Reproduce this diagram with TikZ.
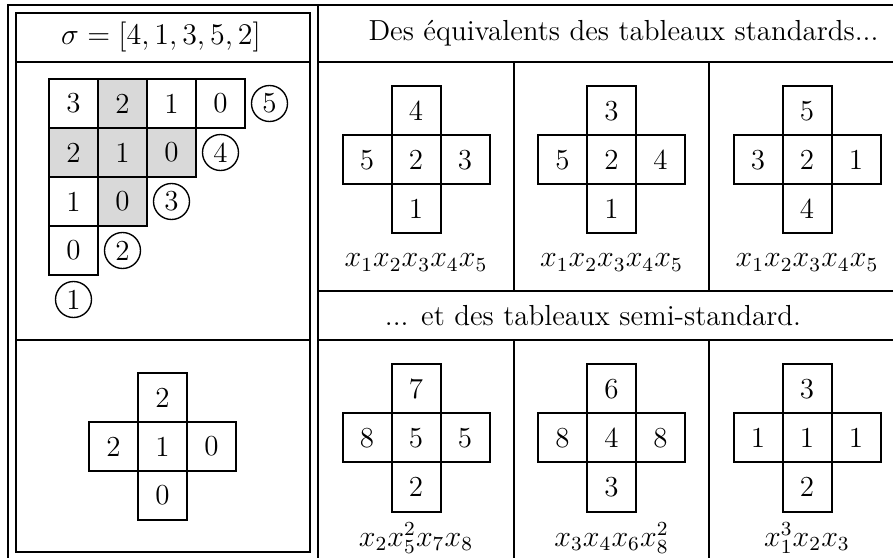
\documentclass[tikz,border=0pt]{standalone}
\usepackage{tikz}
\usetikzlibrary{positioning}

% one cross-shaped tableau: name, centre, top, left, middle, right, bottom
\newcommand{\croix}[7]{%
  \node[cell] (#1c) at #2 {#5};
  \node[cell, above=0pt of #1c] (#1t) {#3};
  \node[cell, left=0pt of #1c] (#1l) {#4};
  \node[cell, right=0pt of #1c] (#1r) {#6};
  \node[cell, below=0pt of #1c] (#1b) {#7};
}

\begin{document}
\begin{tikzpicture}[
  x=0.4pt, y=-0.4pt,
  font=\fontsize{11.6}{13.9}\selectfont,
  rule/.style={line width=0.8pt},
  cell/.style={draw, line width=0.8pt, minimum size=19.6pt, inner sep=0pt, outer sep=0pt},
  shd/.style={cell, fill=gray!30},
  rond/.style={draw, circle, line width=0.55pt, minimum size=14.4pt, inner sep=0pt},
  node distance=0pt]
\useasboundingbox (0,0) rectangle (893,558);
\clip (0,0) rectangle (893,558);
% frame
\draw[rule] (8,558) -- (8,5) -- (893,5);
\draw[rule] (318,5) -- (318,558);
\draw[rule] (318,62) -- (893,62) (318,291) -- (893,291) (318,340) -- (893,340);
\draw[rule] (514,62) -- (514,291) (709,62) -- (709,291);
\draw[rule] (514,340) -- (514,558) (709,340) -- (709,558);
\draw[rule] (16,13) rectangle (310,552);
\draw[rule] (16,62) -- (310,62) (16,340) -- (310,340);
% left panel
\node (sig) at (161,37) {$\sigma = [4,1,3,5,2]$};
\node[cell] (g11) at (73.5,103.5) {3};
\node[shd, right=of g11] (g12) {2};
\node[cell, right=of g12] (g13) {1};
\node[cell, right=of g13] (g14) {0};
\node[shd, below=of g11] (g21) {2};
\node[shd, right=of g21] (g22) {1};
\node[shd, right=of g22] (g23) {0};
\node[cell, below=of g21] (g31) {1};
\node[shd, right=of g31] (g32) {0};
\node[cell, below=of g31] (g41) {0};
\node[rond] (c5) at (269.5,103.5) {5};
\node[rond] (c4) at (220.5,152.5) {4};
\node[rond] (c3) at (171.5,201.5) {3};
\node[rond] (c2) at (122.5,250.5) {2};
\node[rond] (c1) at (73.5,299.5) {1};
\croix{k}{(162.5,446.5)}{2}{2}{1}{0}{0}
% right panel
\node (std) at (623.5,33.5) {Des équivalents des tableaux standards...};
\croix{a}{(416,160)}{4}{5}{2}{3}{1}
\croix{b}{(611.5,160)}{3}{5}{2}{4}{1}
\croix{c}{(807,160)}{5}{3}{2}{1}{4}
\node[anchor=base] (ma) at (416,267) {$x_1x_2x_3x_4x_5$};
\node[anchor=base] (mb) at (611.5,267) {$x_1x_2x_3x_4x_5$};
\node[anchor=base] (mc) at (807,267) {$x_1x_2x_3x_4x_5$};
\node (semi) at (593,315.5) {... et des tableaux semi-standard.};
\croix{d}{(416,438)}{7}{8}{5}{5}{2}
\croix{e}{(611.5,438)}{6}{8}{4}{8}{3}
\croix{f}{(807,438)}{3}{1}{1}{1}{2}
\node[anchor=base] (md) at (416,546) {$x_2x_5^2x_7x_8$};
\node[anchor=base] (me) at (611.5,546) {$x_3x_4x_6x_8^2$};
\node[anchor=base] (mf) at (807,546) {$x_1^3x_2x_3$};
\end{tikzpicture}
\end{document}
